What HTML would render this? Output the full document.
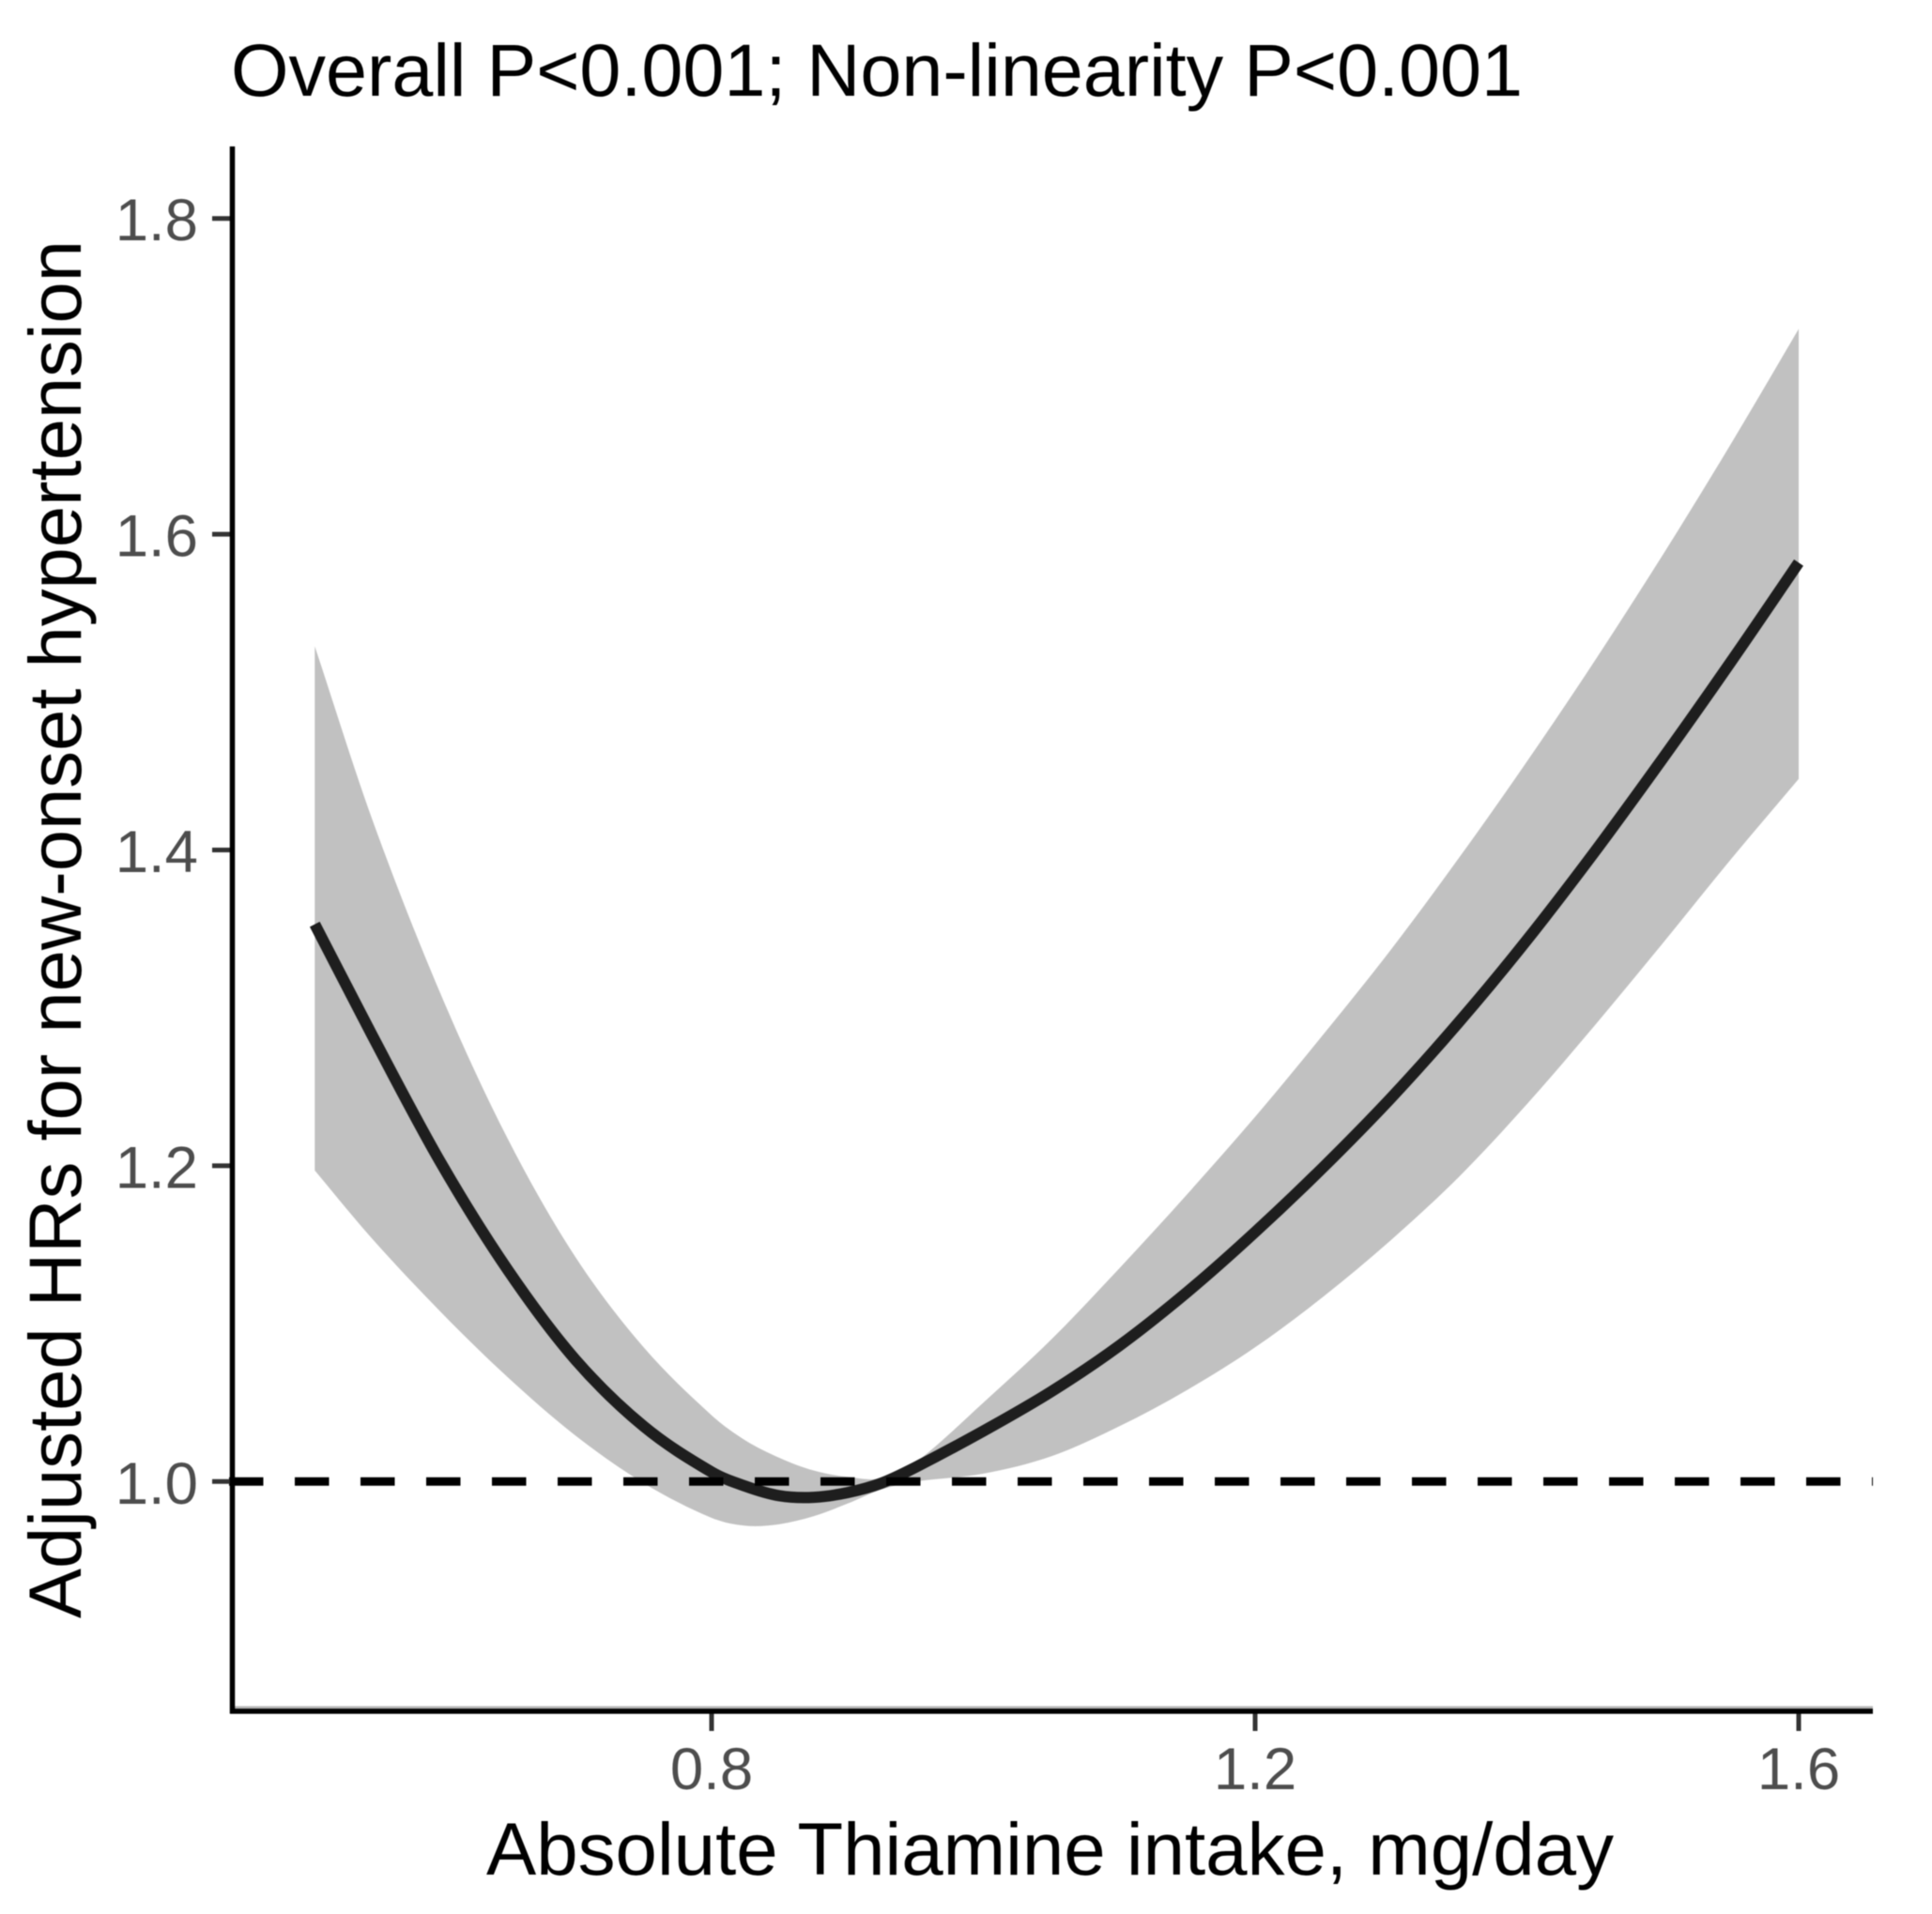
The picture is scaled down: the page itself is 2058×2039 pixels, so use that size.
<!DOCTYPE html>
<html lang="en">
<head>
<meta charset="utf-8">
<title>Absolute Thiamine intake and new-onset hypertension</title>
<style>
  html, body { margin: 0; padding: 0; background: #ffffff; }
  #chart { display: block; width: 2058px; height: 2039px; filter: blur(0.6px); }
  text { font-family: "Liberation Sans", Arial, sans-serif; }
</style>
</head>
<body>
<svg id="chart" xmlns="http://www.w3.org/2000/svg" width="2058" height="2039" viewBox="0 0 2058 2039">
  <rect x="0" y="0" width="2058" height="2039" fill="#ffffff"/>
  <text x="246" y="102" font-size="79" fill="#000000" textLength="1376" lengthAdjust="spacingAndGlyphs">Overall P&lt;0.001; Non-linearity P&lt;0.001</text>
  <text x="518" y="1997" font-size="79" fill="#000000" textLength="1201" lengthAdjust="spacingAndGlyphs">Absolute Thiamine intake, mg/day</text>
  <text transform="translate(86,1724) rotate(-90)" font-size="79" fill="#000000" textLength="1468" lengthAdjust="spacingAndGlyphs">Adjusted HRs for new-onset hypertension</text>
  <g id="ribbon-layer"></g>
  <g id="line-layer"></g>
  <g id="reference-layer"></g>
  <g id="axis-layer"></g>
</svg>
<script>
// Chart data
const intake = [0.508, 0.55, 0.60, 0.65, 0.70, 0.75, 0.80, 0.825, 0.85, 0.875, 0.90, 0.925, 0.95, 1.00, 1.05, 1.10, 1.15, 1.20, 1.25, 1.30, 1.35, 1.40, 1.45, 1.50, 1.55, 1.60];
const hazardRatio = [1.353, 1.283, 1.203, 1.134, 1.077, 1.035, 1.006, 0.997, 0.991, 0.990, 0.993, 0.999, 1.009, 1.032, 1.057, 1.086, 1.120, 1.158, 1.199, 1.243, 1.291, 1.343, 1.399, 1.458, 1.519, 1.582];
const upperCI = [1.529, 1.420, 1.310, 1.217, 1.142, 1.085, 1.042, 1.026, 1.015, 1.007, 1.003, 1.002, 1.012, 1.050, 1.090, 1.135, 1.182, 1.231, 1.283, 1.337, 1.395, 1.456, 1.520, 1.587, 1.657, 1.730];
const lowerCI = [1.197, 1.154, 1.108, 1.066, 1.029, 0.999, 0.977, 0.972, 0.973, 0.978, 0.986, 0.995, 1.000, 1.005, 1.016, 1.035, 1.058, 1.085, 1.117, 1.153, 1.193, 1.239, 1.289, 1.341, 1.394, 1.445];
const xTicks = [0.8, 1.2, 1.6];
const xTickLabels = ['0.8', '1.2', '1.6'];
const yTicks = [1.0, 1.2, 1.4, 1.6, 1.8];
const yTickLabels = ['1.0', '1.2', '1.4', '1.6', '1.8'];
const referenceValue = 1.0;

const SVG_NS = 'http://www.w3.org/2000/svg';
const plotLeft = 247.5, plotRight = 1995, plotTop = 156, plotBottom = 1823;

function xScale(v) { return 758 + (v - 0.8) * 1447.5; }
function yScale(v) { return 1578.3 - (v - 1.0) * 1682; }

function make(tag, attrs, parent) {
  const el = document.createElementNS(SVG_NS, tag);
  Object.keys(attrs).forEach(function (k) { el.setAttribute(k, attrs[k]); });
  parent.appendChild(el);
  return el;
}

// Cubic Hermite smoothing with finite-difference slopes (handles uneven x spacing)
function smoothSegments(pts) {
  const n = pts.length;
  const slopes = pts.map(function (p, i) {
    const a = pts[Math.max(i - 1, 0)], b = pts[Math.min(i + 1, n - 1)];
    return (b[1] - a[1]) / (b[0] - a[0]);
  });
  let d = '';
  for (let i = 0; i < n - 1; i++) {
    const h = (pts[i + 1][0] - pts[i][0]) / 3;
    const c1x = pts[i][0] + h, c1y = pts[i][1] + slopes[i] * h;
    const c2x = pts[i + 1][0] - h, c2y = pts[i + 1][1] - slopes[i + 1] * h;
    d += ' C' + c1x.toFixed(1) + ' ' + c1y.toFixed(1) + ' ' + c2x.toFixed(1) + ' ' + c2y.toFixed(1) + ' ' + pts[i + 1][0].toFixed(1) + ' ' + pts[i + 1][1].toFixed(1);
  }
  return d;
}

function toPoints(xs, ys) { return xs.map(function (x, i) { return [xScale(x), yScale(ys[i])]; }); }

// Confidence band
const upperPts = toPoints(intake, upperCI);
const lowerPts = toPoints(intake, lowerCI).reverse();
const bandPath = 'M' + upperPts[0][0].toFixed(1) + ' ' + upperPts[0][1].toFixed(1) + smoothSegments(upperPts) +
  ' L' + lowerPts[0][0].toFixed(1) + ' ' + lowerPts[0][1].toFixed(1) + smoothSegments(lowerPts) + ' Z';
const band = make('path', { d: bandPath, fill: '#c1c1c1', stroke: 'none' }, document.getElementById('ribbon-layer'));



// Main curve
const linePts = toPoints(intake, hazardRatio);
const curvePath = 'M' + linePts[0][0].toFixed(1) + ' ' + linePts[0][1].toFixed(1) + smoothSegments(linePts);
const curve = make('path', { d: curvePath, fill: 'none', stroke: '#1e1e1e', 'stroke-width': 12 }, document.getElementById('line-layer'));



// Reference line
const refLine = make('line', { x1: 244, x2: plotRight, y1: yScale(referenceValue), y2: yScale(referenceValue), stroke: '#000000', 'stroke-width': 9, 'stroke-dasharray': '36.5 33.5' }, document.getElementById('reference-layer'));



// Axes
const axisLayer = document.getElementById('axis-layer');

yTicks.forEach(function (v, i) {
  const tick = make('line', { x1: 226, x2: plotLeft, y1: yScale(v), y2: yScale(v), stroke: '#333333', 'stroke-width': 5 }, axisLayer);
  
  
  const label = make('text', { x: 211, y: yScale(v) + 23.5, 'font-size': 63.5, fill: '#4d4d4d', 'text-anchor': 'end' }, axisLayer);
  label.textContent = yTickLabels[i];
  
  
});

xTicks.forEach(function (v, i) {
  const tick = make('line', { x1: xScale(v), x2: xScale(v), y1: plotBottom, y2: 1844, stroke: '#333333', 'stroke-width': 5 }, axisLayer);
  
  
  const label = make('text', { x: xScale(v), y: 1906, 'font-size': 63.5, fill: '#4d4d4d', 'text-anchor': 'middle' }, axisLayer);
  label.textContent = xTickLabels[i];
  
  
});

const xFringe = make('line', { x1: plotLeft, x2: plotRight, y1: 1819, y2: 1819, stroke: '#b8b8b8', 'stroke-width': 3 }, axisLayer);



const xAxis = make('line', { x1: 245, x2: plotRight, y1: plotBottom, y2: plotBottom, stroke: '#000000', 'stroke-width': 5.5 }, axisLayer);



const yAxis = make('line', { x1: plotLeft, x2: plotLeft, y1: plotTop, y2: plotBottom + 2.5, stroke: '#000000', 'stroke-width': 5.5 }, axisLayer);


</script>
</body>
</html>
